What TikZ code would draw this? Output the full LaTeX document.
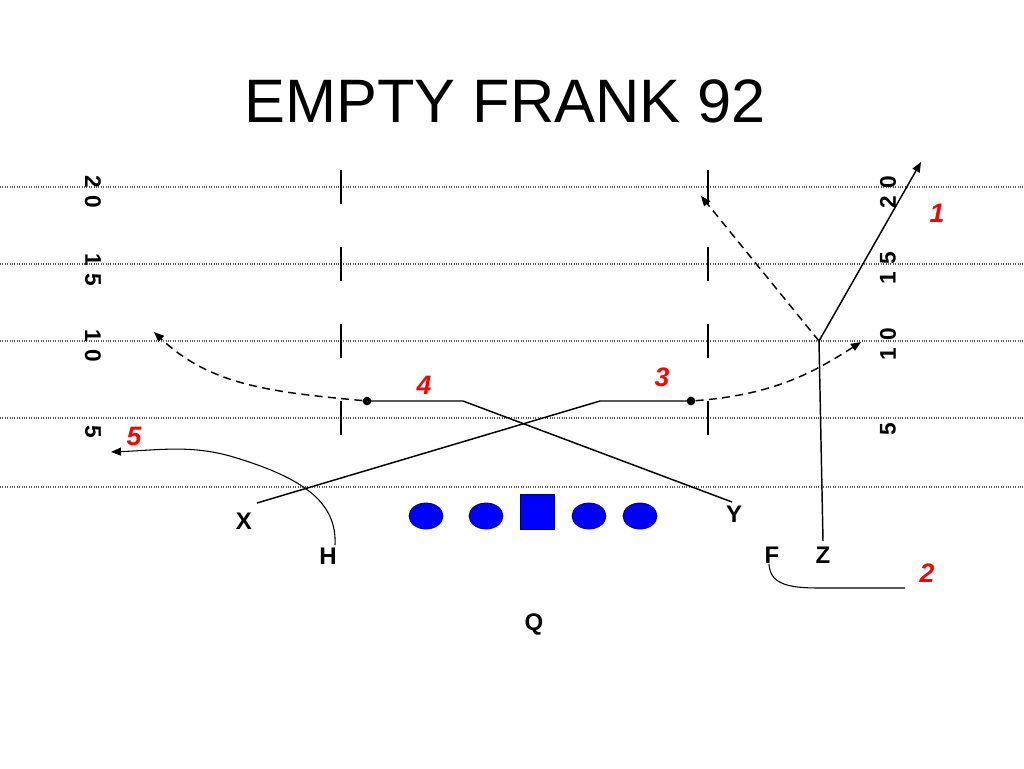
\documentclass[tikz,border=0pt]{standalone}
\usepackage{fontspec}
\setmainfont{Liberation Sans}
\usetikzlibrary{arrows.meta,shapes.geometric}
\begin{document}
\begin{tikzpicture}[x=0.75pt,y=-0.75pt,
  yardline/.style={draw=black!65,densely dotted,line width=0.8pt},
  hashmark/.style={draw=black,line width=0.9pt},
  yardnum/.style={font=\fontsize{17}{17}\selectfont\bfseries,inner sep=0pt},
  player/.style={font=\fontsize{18}{18}\selectfont\bfseries,inner sep=0pt},
  routenum/.style={font=\fontsize{20}{20}\selectfont\bfseries\itshape,text=red,inner sep=0pt},
  lineman/.style={ellipse,draw=blue!50!black,fill=blue,line width=0.6pt,minimum width=25.5pt,minimum height=19.5pt,inner sep=0pt},
  centerbox/.style={rectangle,draw=blue!50!black,fill=blue,line width=0.6pt,minimum width=26pt,minimum height=26pt,inner sep=0pt},
  route/.style={draw=black,line width=1.1pt},
  thinroute/.style={draw=black,line width=0.8pt},
  option/.style={draw=black,line width=1.1pt,dash pattern=on 6pt off 4pt},
  tip/.style={-{Triangle[length=7.5pt,width=6pt]}},
  dotmark/.style={circle,fill=black,inner sep=0pt,minimum size=6.5pt}
]
\useasboundingbox[fill=white] (0,0) rectangle (1024,768);

% title
\node[inner sep=0pt,font=\fontsize{46}{46}\selectfont] (title) at (505,101) {EMPTY FRANK 92};

% yard lines
\foreach \yy/\nm in {187/a,264/b,341/c,418/d,487/e}{
  \coordinate (yl\nm) at (0,\yy);
  \coordinate (yr\nm) at (1024,\yy);
  \draw[yardline] (yl\nm) -- (yr\nm);
}

% hash marks
\foreach \hx/\hn in {341/l,708/r}{
  \foreach \ya/\yb/\k in {170/204/1,247/281/2,324/358/3,401/435/4}{
    \coordinate (h\hn\k a) at (\hx,\ya);
    \coordinate (h\hn\k b) at (\hx,\yb);
    \draw[hashmark] (h\hn\k a) -- (h\hn\k b);
  }
}

% yard numbers
\node[yardnum,rotate=-90] (nl20) at (93,192) {2\hspace{6pt}0};
\node[yardnum,rotate=-90] (nl15) at (93,270) {1\hspace{6pt}5};
\node[yardnum,rotate=-90] (nl10) at (93,346) {1\hspace{6pt}0};
\node[yardnum,rotate=-90] (nl5) at (93,432) {5};
\node[yardnum,rotate=90] (nr20) at (888,192) {2\hspace{6pt}0};
\node[yardnum,rotate=90] (nr15) at (888,268) {1\hspace{6pt}5};
\node[yardnum,rotate=90] (nr10) at (888,344) {1\hspace{6pt}0};
\node[yardnum,rotate=90] (nr5) at (888,429) {5};

% line
\node[lineman] (lt) at (426,516) {};
\node[lineman] (lg) at (486,516) {};
\node[centerbox] (c) at (537.5,512) {};
\node[lineman] (rg) at (589,516) {};
\node[lineman] (rt) at (640,516) {};

% players
\node[player] (X) at (244,521) {X};
\node[player] (H) at (328,556) {H};
\node[player] (Y) at (734,514) {Y};
\node[player] (F) at (772,555) {F};
\node[player] (Z) at (823,555) {Z};
\node[player] (Q) at (534,624) {Q};

% route numbers
\node[routenum] (r1) at (937,213) {1};
\node[routenum] (r2) at (927,573) {2};
\node[routenum] (r3) at (662,377) {3};
\node[routenum] (r4) at (424,385) {4};
\node[routenum] (r5) at (134,436) {5};

% key points
\coordinate (xs) at (257,503);
\coordinate (xb) at (600,401);
\node[dotmark] (xd) at (691,401) {};
\coordinate (xe) at (861,342);

\coordinate (ys) at (732,502);
\coordinate (yb) at (463,401);
\node[dotmark] (yd) at (367,401) {};
\coordinate (ye) at (154,332);

\coordinate (zs) at (823,541);
\coordinate (zb) at (819,341);
\coordinate (ze) at (921,162);
\coordinate (zo) at (701,196);

\coordinate (hs) at (335,545);
\coordinate (he) at (111,452);

\coordinate (fs) at (769,564);
\coordinate (fm) at (820,588);
\coordinate (fe) at (905,588);

% X route
\draw[route] (xs) -- (xb) -- (xd.center);
\draw[option,tip] (xd) .. controls (770,395) and (810,375) .. (xe);

% Y route
\draw[route] (ys) -- (yb) -- (yd.center);
\draw[option,tip] (yd) .. controls (270,392) and (210,385) .. (ye);

% Z route
\draw[route,tip] (zs) -- (zb) -- (ze);
\draw[option,tip] (zb) -- (zo);

% H route
\draw[thinroute,tip] (hs) .. controls (337,503) and (305,478) .. (230,456)
   .. controls (190,445) and (160,450) .. (he);

% F route
\draw[thinroute] (fs) .. controls (770,585) and (790,588) .. (fm) -- (fe);
\end{tikzpicture}
\end{document}
